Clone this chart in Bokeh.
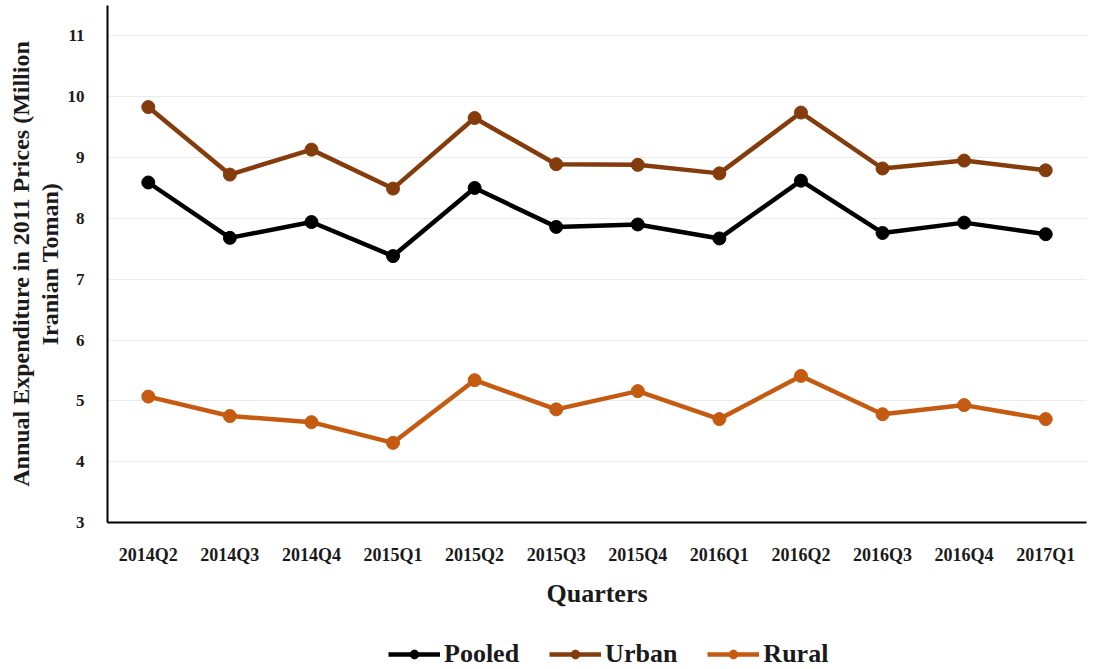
from bokeh.plotting import figure
from bokeh.layouts import column
from bokeh.models import Legend, LegendItem, FixedTicker
from bokeh.embed import file_html
from bokeh.resources import INLINE

quarters = ["2014Q2", "2014Q3", "2014Q4", "2015Q1", "2015Q2", "2015Q3",
            "2015Q4", "2016Q1", "2016Q2", "2016Q3", "2016Q4", "2017Q1"]
pooled = [8.59, 7.68, 7.94, 7.38, 8.50, 7.86, 7.90, 7.67, 8.62, 7.76, 7.93, 7.74]
urban = [9.83, 8.72, 9.13, 8.49, 9.65, 8.89, 8.88, 8.74, 9.74, 8.82, 8.95, 8.79]
rural = [5.07, 4.75, 4.65, 4.31, 5.34, 4.86, 5.16, 4.70, 5.41, 4.78, 4.93, 4.70]
y_ticks = [3, 4, 5, 6, 7, 8, 9, 10, 11]
y_title = ["Annual Expenditure in 2011 Prices (Million", "Iranian Toman)"]
names = ["Pooled", "Urban", "Rural"]
colors = ["#000000", "#843C0C", "#C55A11"]

FONT = "Liberation Serif"
TXT = "#1a1a1a"

p = figure(width=1094, height=625, x_range=quarters, y_range=(3, 11.5),
           output_backend="svg", toolbar_location=None,
           min_border_left=107, min_border_right=8, min_border_top=5, min_border_bottom=103)
p.outline_line_color = None
p.background_fill_color = "white"
p.border_fill_color = "white"

p.xgrid.grid_line_color = None
p.ygrid.grid_line_color = "#EBEBEB"
p.ygrid.grid_line_width = 1.2
p.yaxis.ticker = FixedTicker(ticks=y_ticks)

for ax in (p.xaxis, p.yaxis):
    ax.axis_line_color = "black"
    ax.axis_line_width = 2
    ax.major_tick_line_color = None
    ax.minor_tick_line_color = None
    ax.major_label_text_font = FONT
    ax.major_label_text_font_style = "bold"
    ax.major_label_text_color = TXT
    ax.axis_label_text_font = FONT
    ax.axis_label_text_font_style = "bold"
    ax.axis_label_text_color = TXT

p.xaxis.major_label_text_font_size = "18px"
p.yaxis.major_label_text_font_size = "17px"
p.xaxis.major_label_standoff = 16
p.yaxis.major_label_standoff = 17
p.xaxis.axis_label = "Quarters"
p.xaxis.axis_label_text_font_size = "26px"
p.xaxis.axis_label_standoff = 11

p.yaxis.axis_label = "\n".join(y_title)
p.yaxis.axis_label_text_font_size = "24px"
p.yaxis.axis_label_standoff = 2
p.yaxis.axis_label_text_line_height = 1.1

for vals, col in zip([pooled, urban, rural], colors):
    p.line(quarters, vals, line_color=col, line_width=4.5)
    p.scatter(quarters, vals, size=13, fill_color=col, line_color=col)

# legend strip below the chart
lg = figure(width=1094, height=44, x_range=(0, 1), y_range=(0, 1),
            output_backend="svg", toolbar_location=None,
            x_axis_type=None, y_axis_type=None,
            min_border_left=0, min_border_right=0, min_border_top=0, min_border_bottom=0)
lg.outline_line_color = None
lg.grid.grid_line_color = None
items = []
for name, col in zip(names, colors):
    l = lg.line([-10, -9], [-10, -10], line_color=col, line_width=4.5)
    s = lg.scatter([-10], [-10], size=13, fill_color=col, line_color=col)
    items.append(LegendItem(label=name, renderers=[l, s]))

legend = Legend(items=items, orientation="horizontal", location=(281, 0),
                label_text_font=FONT, label_text_font_style="bold",
                label_text_font_size="26px", label_text_color=TXT,
                glyph_width=52, glyph_height=22, spacing=30, label_standoff=4,
                border_line_color=None, background_fill_alpha=0,
                margin=0, padding=0)
lg.add_layout(legend)

layout = column(p, lg, spacing=0)
open("out.html", "w").write(file_html(layout, INLINE))
